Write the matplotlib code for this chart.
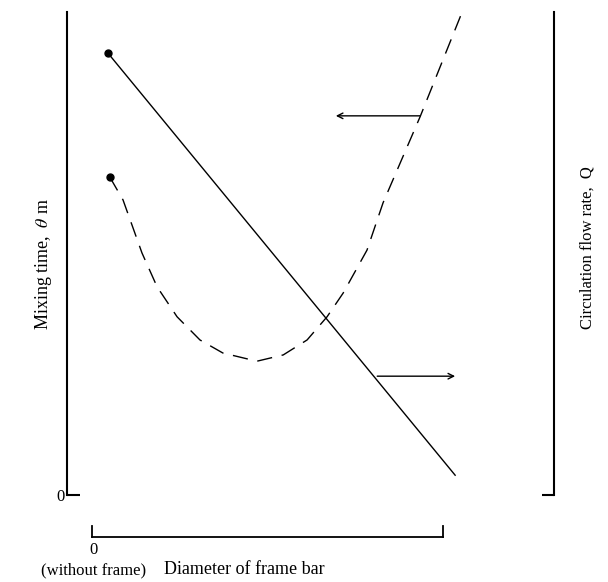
import matplotlib.pyplot as plt

# (axes units 0..10 on both scales)
flow_x = [0.84, 7.97]
flow_y = [9.15, 0.41]

mix_x = [0.88, 1.15, 1.54, 1.85, 2.26, 2.73, 3.20, 3.90, 4.44, 4.93,
         5.34, 5.67, 6.16, 6.49, 6.84, 7.25, 8.13]
mix_y = [6.58, 6.11, 5.01, 4.31, 3.69, 3.21, 2.94, 2.77, 2.90, 3.21,
         3.69, 4.18, 5.07, 6.05, 6.87, 7.83, 10.04]

# arrows pointing each curve to its own axis
arrow_mix = ((7.25, 7.85), (5.52, 7.85))
arrow_flow = ((6.37, 2.46), (7.97, 2.46))

plt.rcParams['font.family'] = 'Liberation Serif'
plt.rcParams['mathtext.fontset'] = 'stix'

W, H = 608, 582
fig = plt.figure(figsize=(W / 100, H / 100), dpi=100)

# main plot box: left axis at x=67, right axis at x=554
ax = fig.add_axes([67 / W, 1 - 495 / H, (554 - 67) / W, (495 - 12) / H])
ax.set_xlim(0, 10)
ax.set_ylim(0, 10)
for s in ['top', 'bottom']:
    ax.spines[s].set_visible(False)
for s in ['left', 'right']:
    ax.spines[s].set_linewidth(1.5)
ax.set_xticks([])
ax.set_yticks([0])
ax.set_yticklabels(['0'])
ax.tick_params(axis='y', direction='in', length=9, width=1.5,
               right=True, labelright=False, labelsize=12, pad=2)

ax.plot(flow_x, flow_y, color='black', lw=1.0)
ax.plot(flow_x[0], flow_y[0], 'o', color='black', ms=5)
ax.plot(mix_x, mix_y, color='black', lw=1.0, dashes=(11, 7), clip_on=False)
ax.plot(mix_x[0], mix_y[0], 'o', color='black', ms=5)

for start, end in [arrow_mix, arrow_flow]:
    ax.annotate('', xy=end, xytext=start,
                arrowprops=dict(arrowstyle='->', color='black', lw=1.0,
                                shrinkA=0, shrinkB=0))

# bottom bracket axis for frame bar diameter
axb = fig.add_axes([92 / W, 1 - 537 / H, (443 - 92) / W, 11 / H])
axb.spines['top'].set_visible(False)
for s in ['left', 'right', 'bottom']:
    axb.spines[s].set_linewidth(1.3)
axb.set_xticks([])
axb.set_yticks([])
axb.patch.set_alpha(0)

fig.text(93 / W, 1 - 550 / H, '0', ha='center', va='center', fontsize=12)
fig.text(94 / W, 1 - 570 / H, '(without frame)', ha='center', va='center',
         fontsize=12)
fig.text(164 / W, 1 - 570 / H, 'Diameter of frame bar', ha='left',
         va='center', fontsize=13)
fig.text(44 / W, 1 - 264 / H, 'Mixing time,  $\\theta$ m', rotation=90,
         ha='center', va='center', fontsize=13)
fig.text(588 / W, 1 - 248 / H, 'Circulation flow rate,  Q', rotation=90,
         ha='center', va='center', fontsize=12)

fig.savefig('out.png', dpi=100)
